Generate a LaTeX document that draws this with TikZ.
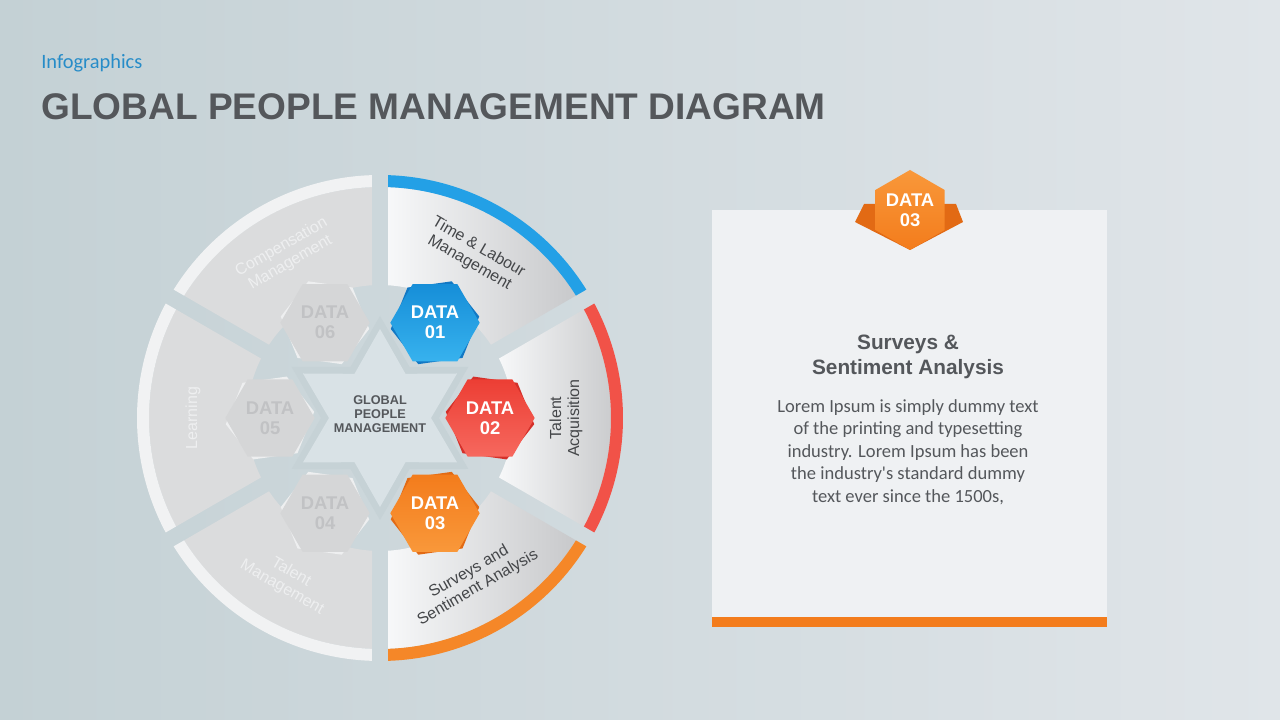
\documentclass[tikz,border=0pt]{standalone}
\usepackage{fontspec}
\setmainfont{Liberation Sans}
\newfontfamily\calibri{Carlito}
\usetikzlibrary{shapes.geometric}

% colours
\definecolor{bgleft}{RGB}{196,209,213}
\definecolor{bgright}{RGB}{224,229,233}
\definecolor{gapgrey}{RGB}{198,210,214}
\definecolor{stargrey}{RGB}{217,226,230}
\definecolor{seggrey}{RGB}{219,220,221}
\definecolor{ringgrey}{RGB}{241,242,243}
\definecolor{hexgrey}{RGB}{213,214,215}
\definecolor{hexedge}{RGB}{238,239,240}
\definecolor{hextext}{RGB}{193,194,196}
\definecolor{litlight}{RGB}{247,248,249}
\definecolor{litdark}{RGB}{200,201,203}
\definecolor{blueA}{RGB}{22,142,216}
\definecolor{blueB}{RGB}{55,178,238}
\definecolor{blueS}{RGB}{18,120,196}
\definecolor{blueR}{RGB}{35,160,230}
\definecolor{redA}{RGB}{236,62,52}
\definecolor{redB}{RGB}{246,104,94}
\definecolor{redS}{RGB}{212,48,42}
\definecolor{redR}{RGB}{241,82,72}
\definecolor{orangeA}{RGB}{243,124,28}
\definecolor{orangeB}{RGB}{249,152,58}
\definecolor{orangeS}{RGB}{226,106,20}
\definecolor{orangeR}{RGB}{245,135,40}
\definecolor{textgrey}{RGB}{84,87,91}
\definecolor{labelgrey}{RGB}{68,70,73}
\definecolor{headblue}{RGB}{38,140,200}
\definecolor{panel}{RGB}{239,241,243}

\tikzset{
  litbody/.style={left color=litlight,right color=litdark},
  greybody/.style={fill=seggrey},
  hexbadge/.style={regular polygon,regular polygon sides=6,minimum size=67pt,inner sep=0pt,
    align=center,font=\bfseries\fontsize{13.8}{15}\selectfont},
  seglabel/.style={align=center,font=\fontsize{12}{13.5}\selectfont},
}

\begin{document}
\begin{tikzpicture}[x=0.75pt,y=0.75pt]
        % Background
        \useasboundingbox (0,0) rectangle (1280,720);
        \shade[left color=bgleft,right color=bgright] (0,0) rectangle (1280,720);

        % Heading
        \node[anchor=base west,inner sep=0pt,text=headblue,font=\calibri\fontsize{15.3}{18}\selectfont] (kicker) at (41,651) {Infographics};
        \node[anchor=base west,inner sep=0pt,text=textgrey,font=\bfseries\fontsize{27.8}{30}\selectfont] (title) at (41,600) {GLOBAL PEOPLE MANAGEMENT DIAGRAM};

        \begin{scope}[shift={(380,302)}]
        % Segments and outer rings
        \foreach \s/\bd/\rg in {30/litbody/blueR,-30/litbody/redR,-90/litbody/orangeR,-150/greybody/ringgrey,150/greybody/ringgrey,90/greybody/ringgrey}{
          \path[\bd] ({\s+3.45}:133) -- ({\s+1.99}:231) arc[start angle={\s+1.99},end angle={\s+58.01},radius=231]
            -- ({\s+56.55}:133) arc[start angle={\s+56.55},end angle={\s+3.45},radius=133] -- cycle;
          \fill[\rg] ({\s+1.99}:231) arc[start angle={\s+1.99},end angle={\s+58.01},radius=231]
            -- ({\s+58.11}:243) arc[start angle={\s+58.11},end angle={\s+1.89},radius=243] -- cycle;
        }

        % Star in the middle
        \fill[gapgrey] (30:102) -- (60:59) -- (90:102) -- (120:59) -- (150:102) -- (180:59) -- (210:102) -- (240:59)
          -- (270:102) -- (300:59) -- (330:102) -- (0:59) -- cycle;
        \fill[stargrey] (30:89) -- (60:51) -- (90:89) -- (120:51) -- (150:89) -- (180:51) -- (210:89) -- (240:51)
          -- (270:89) -- (300:51) -- (330:89) -- (0:51) -- cycle;
        \node[align=center,text=textgrey,font=\bfseries\fontsize{9.5}{10.6}\selectfont] (hub) at (0,4) {GLOBAL\\PEOPLE\\MANAGEMENT};

        % Badges
        \node[hexbadge,fill=blueS,shape border rotate=8] (d1s) at (60:110) {};
        \node[hexbadge,top color=blueA,bottom color=blueB,text=white] (d1) at (60:110) {DATA\\01};
        \node[hexbadge,fill=redS,shape border rotate=-8] (d2s) at (0:110) {};
        \node[hexbadge,top color=redA,bottom color=redB,text=white] (d2) at (0:110) {DATA\\02};
        \node[hexbadge,fill=orangeS,shape border rotate=8] (d3s) at (-60:110) {};
        \node[hexbadge,top color=orangeA,bottom color=orangeB,text=white] (d3) at (-60:110) {DATA\\03};
        \node[hexbadge,fill=hexedge,shape border rotate=-8] (d4s) at (-120:110) {};
        \node[hexbadge,fill=hexgrey,text=hextext] (d4) at (-120:110) {DATA\\04};
        \node[hexbadge,fill=hexedge,shape border rotate=8] (d5s) at (180:110) {};
        \node[hexbadge,fill=hexgrey,text=hextext] (d5) at (180:110) {DATA\\05};
        \node[hexbadge,fill=hexedge,shape border rotate=-8] (d6s) at (120:110) {};
        \node[hexbadge,fill=hexgrey,text=hextext] (d6) at (120:110) {DATA\\06};

        % Segment labels
        \node[seglabel,text=labelgrey,rotate=-30] (l1) at (60:188) {Time \& Labour\\Management};
        \node[seglabel,text=labelgrey,rotate=90] (l2) at (0:186) {Talent\\Acquisition};
        \node[seglabel,text=labelgrey,rotate=30] (l3) at (-60:187) {Surveys and\\Sentiment Analysis};
        \node[seglabel,text=hexedge,rotate=-30] (l4) at (-120:187) {Talent\\Management};
        \node[seglabel,text=hexedge,rotate=90] (l5) at (180:187) {Learning};
        \node[seglabel,text=hexedge,rotate=30] (l6) at (120:188) {Compensation\\Management};
        \end{scope}

        % Detail panel
        \fill[panel] (712,93) rectangle (1107,510);
        \fill[orangeA] (712,93) rectangle (1107,103);
        \fill[orangeS] (855,498) -- (864,516) -- (956,516) -- (963,498) -- (910,470) -- cycle;
        \node[hexbadge,minimum size=60pt,shape border rotate=30,top color=orangeB,bottom color=orangeA,text=white] (p3) at (910,510) {DATA\\03};
        \node[align=center,text=textgrey,font=\bfseries\fontsize{15.6}{18.75}\selectfont] (ptitle) at (908,363) {Surveys \&\\Sentiment Analysis};
        \node[align=center,text=textgrey,font=\calibri\fontsize{13.9}{16.9}\selectfont] (ptext) at (908,268) {Lorem Ipsum is simply dummy text\\of the printing and typesetting\\industry. Lorem Ipsum has been\\the industry's standard dummy\\text ever since the 1500s,};

      \end{tikzpicture}
\end{document}
